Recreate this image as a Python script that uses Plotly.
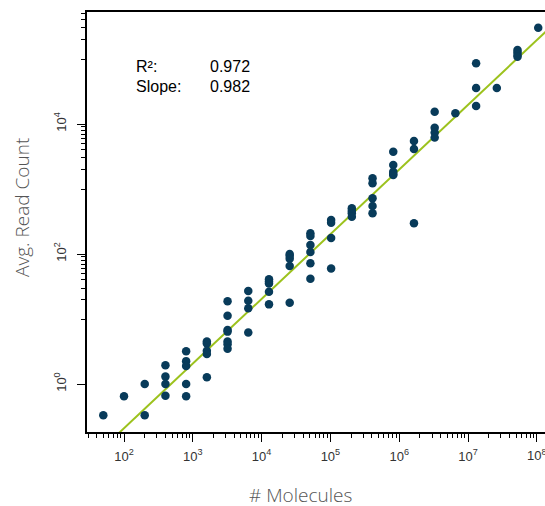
import numpy as np
import plotly.graph_objects as go

# ---- data ----
molecules = (
    [50] + [100] + [200] * 2 + [400] * 4 + [800] * 5 + [1600] * 5 + [3200] * 7 +
    [6400] * 4 + [12800] * 5 + [25600] * 5 + [51200] * 6 + [102400] * 4 +
    [204800] * 4 + [409600] * 5 + [819200] * 5 + [1638400] * 3 + [3276800] * 4 +
    [6553600] + [13107200] * 3 + [26214400] + [52428800] * 4 + [104857600]
)
read_count = [
    0.33,
    0.65,
    1.0, 0.33,
    1.95, 1.3, 1.0, 0.66,
    3.2, 2.25, 1.9, 1.0, 0.65,
    4.5, 4.2, 3.25, 2.9, 1.27,
    18.7, 11.2, 6.8, 6.4, 4.5, 4.1, 3.5,
    27, 19.1, 14.6, 6.2,
    40.8, 37.8, 35.2, 26.3, 16.8,
    100, 93, 84.7, 65.3, 17.8,
    208, 189, 138, 107, 72, 41.7,
    333, 303, 176, 60,
    505, 459, 423, 375,
    1460, 1225, 719, 547, 423,
    3750, 2340, 1850, 1700, 1640,
    5470, 4120, 297,
    15450, 8770, 7400, 6200,
    14600,
    85900, 35800, 18900,
    35800,
    137500, 126700, 115300, 108400,
    303000,
]

# regression line (log10 space), as drawn
fit_slope = 0.995
fit_intercept = -2.67
fit_x = [30, 1.5e8]

stat_labels = ["R²:", "Slope:"]
stat_values = ["0.972", "0.982"]

x_title = "# Molecules"
y_title = "Avg. Read Count"

x_tick_vals = [1e2, 1e3, 1e4, 1e5, 1e6, 1e7, 1e8]
x_tick_text = ["10<sup>%d</sup>" % e for e in range(2, 9)]
y_tick_vals = [1, 1e2, 1e4]
y_tick_text = ["10<sup>0</sup>", "10<sup>2</sup>", "10<sup>4</sup>"]

x_minor = [m * 10 ** e for e in range(1, 9) for m in range(2, 10)]
x_minor = [v for v in x_minor if 29 <= v <= 1.3e8]
y_minor = ([10] + [m * 10 for m in range(2, 10)] + [1000] +
           [m * 1000 for m in range(2, 10)] + [1e5] + [m * 1e5 for m in range(2, 6)])

fit_y = [10 ** (fit_intercept + fit_slope * np.log10(v)) for v in fit_x]

dot_color = "#083b5a"
line_color = "#9cc21d"

fig = go.Figure()
fig.add_trace(go.Scatter(
    x=fit_x, y=fit_y, mode="lines",
    line=dict(color=line_color, width=2), hoverinfo="skip", showlegend=False))
fig.add_trace(go.Scatter(
    x=molecules, y=read_count, mode="markers",
    marker=dict(color=dot_color, size=8.5, line=dict(width=0)),
    showlegend=False, cliponaxis=False))

tick_font = dict(family="Liberation Sans, Arial, sans-serif", size=13, color="#333333")
title_font = dict(family="Open Sans, sans-serif", size=19, color="#555555", weight=300)

fig.update_xaxes(
    type="log", range=[1.462, 8.119],
    showline=True, linecolor="black", linewidth=2, mirror=True,
    showgrid=False, zeroline=False,
    tickmode="array", tickvals=x_tick_vals, ticktext=x_tick_text,
    ticks="outside", ticklen=8, tickwidth=1, tickcolor="black",
    tickfont=tick_font, ticklabelstandoff=3,
    minor=dict(tickmode="array", tickvals=x_minor, ticks="outside", ticklen=4,
               tickwidth=1, tickcolor="black", showgrid=False),
)
fig.update_yaxes(
    type="log", range=[-0.738, 5.723],
    showline=True, linecolor="black", linewidth=2, mirror=False,
    showgrid=False, zeroline=False,
    tickmode="array", tickvals=y_tick_vals, ticktext=y_tick_text,
    ticks="outside", ticklen=8, tickwidth=1, tickcolor="black",
    tickfont=tick_font, tickangle=-90, ticklabelstandoff=6,
    minor=dict(tickmode="array", tickvals=y_minor, ticks="outside", ticklen=4,
               tickwidth=1, tickcolor="black", showgrid=False),
)

ann_font = dict(family="Liberation Sans, Arial, sans-serif", size=16, color="black")
for i, (lab, val) in enumerate(zip(stat_labels, stat_values)):
    yp = 0.8695 - i * 0.0475
    fig.add_annotation(x=0.102, y=yp, xref="paper", yref="paper", text=lab,
                       showarrow=False, xanchor="left", yanchor="middle", font=ann_font)
    fig.add_annotation(x=0.2645, y=yp, xref="paper", yref="paper", text=val,
                       showarrow=False, xanchor="left", yanchor="middle", font=ann_font)

# partially visible 10^8 tick label at the right edge
fig.add_annotation(x=8, y=0, xref="x", yref="paper", yshift=-23, text=x_tick_text[-1],
                   showarrow=False, xanchor="center", yanchor="middle", font=tick_font)

# axis titles
fig.add_annotation(x=(300 - 87) / 458, y=-(495 - 432) / 420, xref="paper", yref="paper",
                   text=x_title, showarrow=False, xanchor="center", yanchor="middle",
                   font=title_font)
fig.add_annotation(x=-(87 - 22) / 458, y=1 - (208 - 12) / 420, xref="paper", yref="paper",
                   text=y_title, showarrow=False, xanchor="center", yanchor="middle",
                   textangle=-90, font=title_font)

fig.update_layout(
    width=545, height=506,
    margin=dict(l=87, r=0, t=12, b=74, autoexpand=False),
    paper_bgcolor="white", plot_bgcolor="white",
)
fig.write_html("out.html")
